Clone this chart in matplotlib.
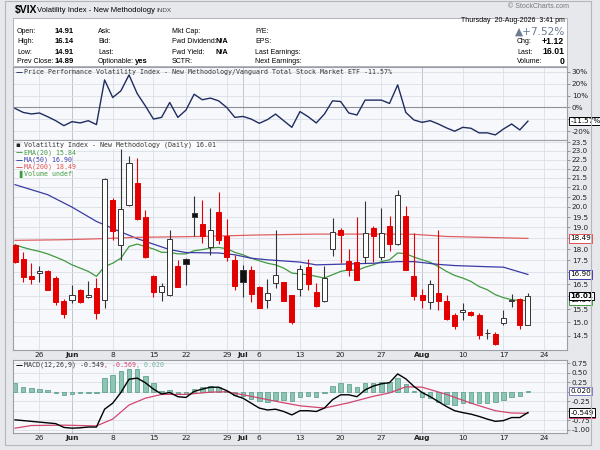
import numpy as np
import matplotlib
matplotlib.use("Agg")
import matplotlib.pyplot as plt
from matplotlib.patches import Rectangle
from matplotlib.transforms import blended_transform_factory as blend

# ---------------- data ----------------
holidays = ["2026-05-25", "2026-06-19", "2026-07-03"]
dates = ["2026-05-20", "2026-05-21", "2026-05-22", "2026-05-26", "2026-05-27", "2026-05-28", "2026-05-29",
         "2026-06-01", "2026-06-02", "2026-06-03", "2026-06-04", "2026-06-05",
         "2026-06-08", "2026-06-09", "2026-06-10", "2026-06-11", "2026-06-12",
         "2026-06-15", "2026-06-16", "2026-06-17", "2026-06-18",
         "2026-06-22", "2026-06-23", "2026-06-24", "2026-06-25", "2026-06-26",
         "2026-06-29", "2026-06-30", "2026-07-01", "2026-07-02",
         "2026-07-06", "2026-07-07", "2026-07-08", "2026-07-09", "2026-07-10",
         "2026-07-13", "2026-07-14", "2026-07-15", "2026-07-16", "2026-07-17",
         "2026-07-20", "2026-07-21", "2026-07-22", "2026-07-23", "2026-07-24",
         "2026-07-27", "2026-07-28", "2026-07-29", "2026-07-30", "2026-07-31",
         "2026-08-03", "2026-08-04", "2026-08-05", "2026-08-06", "2026-08-07",
         "2026-08-10", "2026-08-11", "2026-08-12", "2026-08-13", "2026-08-14",
         "2026-08-17", "2026-08-18", "2026-08-19", "2026-08-20"]

opens = [18.20, 17.56, 16.82, 16.95, 17.06, 16.75, 15.82,
         15.87, 16.27, 15.98, 16.33, 15.84,
         20.33, 18.20, 20.09, 21.24, 19.51,
         16.82, 16.18, 16.06, 17.26,
         17.56, 19.68, 19.16, 18.08, 19.73,
         18.62, 17.53, 17.10, 17.07,
         16.38, 15.87, 16.53, 16.58, 16.04,
         16.29, 17.20, 16.16, 15.83, 18.01,
         18.90, 17.49, 17.42, 17.65, 18.98,
         17.65, 19.06, 18.25, 19.56, 16.82,
         16.05, 15.78, 16.13, 15.83, 15.28,
         15.40, 15.40, 15.28, 14.60, 14.57,
         14.97, 15.80, 15.90, 14.91]
highs = [18.25, 17.86, 17.38, 17.25, 17.10, 16.82, 15.91,
         16.46, 16.30, 16.62, 16.75, 21.50,
         20.45, 23.08, 22.69, 22.60, 19.86,
         16.89, 16.54, 18.86, 17.50,
         17.60, 20.57, 20.37, 19.94, 20.78,
         19.41, 17.75, 17.31, 17.24,
         16.43, 16.69, 18.90, 16.59, 16.07,
         17.31, 17.55, 16.54, 17.25, 19.45,
         18.98, 18.01, 19.51, 20.32, 19.09,
         19.94, 19.56, 20.88, 20.06, 18.72,
         16.30, 16.68, 18.87, 16.04, 15.37,
         15.73, 15.43, 15.34, 14.76, 14.64,
         15.47, 16.09, 15.93, 16.14]
lows = [17.40, 16.58, 16.51, 16.58, 16.24, 15.65, 15.17,
        15.73, 15.73, 15.95, 15.12, 15.54,
        18.43, 17.50, 20.05, 19.34, 17.60,
        15.98, 15.80, 16.02, 16.37,
        16.47, 18.58, 18.28, 17.72, 18.24,
        17.46, 16.27, 15.98, 15.76,
        15.55, 15.55, 16.33, 15.80, 14.95,
        16.02, 16.27, 15.60, 15.76, 17.68,
        17.40, 16.82, 16.65, 17.40, 17.42,
        17.53, 17.91, 18.20, 17.07, 15.87,
        15.55, 15.51, 15.47, 15.09, 14.75,
        15.09, 15.25, 14.39, 14.39, 14.18,
        14.89, 15.59, 14.76, 14.91]
closes = [17.45, 16.78, 16.71, 17.04, 16.27, 15.78, 15.30,
          16.06, 15.78, 16.07, 15.36, 21.46,
          18.85, 19.89, 22.30, 19.41, 17.65,
          16.18, 16.43, 18.45, 16.40,
          17.33, 19.50, 18.61, 18.90, 18.40,
          17.65, 16.43, 16.57, 16.11,
          15.55, 16.13, 16.89, 15.83, 15.00,
          17.13, 16.52, 15.64, 16.75, 18.79,
          18.64, 17.07, 16.65, 18.72, 18.59,
          18.72, 18.23, 20.62, 17.10, 16.00,
          15.85, 16.50, 15.80, 15.12, 14.87,
          15.45, 15.28, 14.54, 14.62, 14.20,
          15.15, 15.85, 14.89, 16.01]

ema20 = [18.20, 18.08, 17.98, 17.90, 17.79, 17.65, 17.50,
         17.31, 17.17, 17.03, 16.82, 17.24,
         17.38, 17.60, 18.12, 18.23, 18.12,
         18.01, 17.86, 17.86, 17.79,
         17.79, 17.93, 17.98, 18.05, 18.08,
         18.02, 17.86, 17.75, 17.60,
         17.49, 17.38, 17.31, 17.17, 16.96,
         16.92, 16.89, 16.82, 16.75, 16.89,
         17.03, 17.10, 17.07, 17.21, 17.31,
         17.45, 17.53, 17.83, 17.80, 17.65,
         17.53, 17.42, 17.24, 17.03, 16.86,
         16.75, 16.61, 16.40, 16.27, 16.07,
         15.95, 15.87, 15.84, 15.84]

ma50_dates = ["2026-05-20", "2026-05-22", "2026-05-27", "2026-06-01", "2026-06-04", "2026-06-09",
              "2026-06-11", "2026-06-17", "2026-06-22", "2026-06-26", "2026-06-30", "2026-07-02",
              "2026-07-07", "2026-07-13", "2026-07-15", "2026-07-20", "2026-07-24", "2026-07-29",
              "2026-07-31", "2026-08-05", "2026-08-07", "2026-08-13", "2026-08-17", "2026-08-20"]
ma50_vals = [21.14, 20.88, 20.62, 19.99, 19.29, 18.79, 18.48, 17.98, 17.85, 17.83, 17.75, 17.60,
             17.53, 17.43, 17.31, 17.34, 17.38, 17.45, 17.45, 17.33, 17.28, 17.23, 17.21, 16.90]

ma200_dates = ["2026-05-20", "2026-05-29", "2026-06-04", "2026-06-11", "2026-06-24", "2026-07-06",
               "2026-07-15", "2026-07-27", "2026-07-31", "2026-08-06", "2026-08-20"]
ma200_vals = [18.40, 18.43, 18.47, 18.54, 18.58, 18.65, 18.69, 18.69, 18.68, 18.58, 18.49]

perf = [-0.8, -4.2, -5.5, -4.7, -7.8, -11.2, -15.4,
        -12.0, -13.1, -11.2, -14.5, 23.3,
        8.4, 14.0, 27.5, 11.8, 1.4,
        -9.8, -8.4, 4.2, -8.4,
        -2.2, 11.2, 6.5, 7.9, 5.6,
        0.0, -8.4, -7.6, -9.8,
        -13.4, -10.3, -5.6, -11.2, -16.8,
        -3.5, -7.8, -13.1, -5.6, 5.6,
        5.0, -4.7, -6.4, 6.2, 6.2,
        6.2, 3.4, 19.1, -4.2, -10.6,
        -12.6, -11.2, -14.0, -17.3, -20.1,
        -16.8, -17.6, -21.5, -21.5, -23.2,
        -18.2, -14.0, -19.0, -11.57]

macd = [-0.74, -0.76, -0.78, -0.80, -0.82, -0.84, -0.94,
        -0.96, -0.95, -0.93, -0.93, -0.46,
        -0.30, -0.02, 0.33, 0.36, 0.24,
        0.07, -0.06, -0.02, -0.13,
        -0.15, 0.01, 0.07, 0.12, 0.12,
        0.03, -0.10, -0.17, -0.30,
        -0.43, -0.48, -0.46, -0.52, -0.61,
        -0.50, -0.50, -0.52, -0.43, -0.21,
        -0.08, -0.08, -0.13, 0.05, 0.15,
        0.21, 0.24, 0.47, 0.34, 0.14,
        -0.02, -0.13, -0.26, -0.39, -0.50,
        -0.55, -0.59, -0.65, -0.72, -0.78,
        -0.76, -0.68, -0.68, -0.549]
signal_dates = ["2026-05-20", "2026-05-22", "2026-05-29", "2026-06-04", "2026-06-08", "2026-06-10",
                "2026-06-12", "2026-06-16", "2026-06-22", "2026-06-25", "2026-06-29", "2026-07-02",
                "2026-07-08", "2026-07-13", "2026-07-16", "2026-07-21", "2026-07-24", "2026-07-28",
                "2026-07-30", "2026-08-03", "2026-08-06", "2026-08-11", "2026-08-14", "2026-08-18",
                "2026-08-20"]
signal_vals = [-0.96, -0.89, -0.88, -0.90, -0.72, -0.35, -0.17, -0.07, -0.07, -0.01, 0.00, -0.12,
               -0.25, -0.37, -0.43, -0.29, -0.12, -0.03, 0.13, 0.12, -0.07, -0.30, -0.50, -0.56,
               -0.569]
hist = [0.22, 0.12, 0.10, 0.07, 0.04, -0.02, -0.08,
        -0.06, -0.04, -0.02, -0.02, 0.37,
        0.44, 0.55, 0.60, 0.60, 0.42,
        0.22, 0.01, 0.04, -0.05,
        -0.05, 0.08, 0.12, 0.15, 0.13,
        0.03, -0.08, -0.12, -0.19,
        -0.25, -0.28, -0.21, -0.21, -0.25,
        -0.13, -0.10, -0.13, -0.03, 0.15,
        0.24, 0.20, 0.13, 0.22, 0.24,
        0.26, 0.27, 0.36, 0.20, 0.02,
        -0.14, -0.17, -0.26, -0.32, -0.36,
        -0.30, -0.30, -0.30, -0.30, -0.28,
        -0.21, -0.13, -0.10, 0.02]

tick_dates = ["2026-05-26", "2026-06-01", "2026-06-08", "2026-06-15", "2026-06-22", "2026-06-29",
              "2026-07-01", "2026-07-06", "2026-07-13", "2026-07-20", "2026-07-27", "2026-08-03",
              "2026-08-10", "2026-08-17", "2026-08-24"]
tick_labels = ["26", "Jun", "8", "15", "22", "29", "Jul", "6", "13", "20", "27", "Aug", "10", "17", "24"]
month_labels = ["Jun", "Jul", "Aug"]

price_ticks = [14.5, 15.0, 15.5, 16.0, 16.5, 17.0, 17.5, 18.0, 18.5, 19.0, 19.5, 20.0,
               20.5, 21.0, 21.5, 22.0, 22.5, 23.0, 23.5]
price_hidden = [16.0, 17.0, 18.5]
perf_ticks = [30, 20, 10, 0, -10, -20]
perf_hidden = [-10]
macd_ticks = [0.75, 0.5, 0.25, 0.0, -0.25, -0.5, -0.75, -1.0]
macd_hidden = [0.0, -0.5]


def bpos(ds):
    return np.busday_count(dates[0], ds, holidays=holidays)


x = bpos(dates)
tpos = bpos(tick_dates)
o = np.array(opens); h = np.array(highs); l = np.array(lows); c = np.array(closes)

# ---------------- figure ----------------
W, H = 600, 450
fig = plt.figure(figsize=(6, 4.5), dpi=100, facecolor="#e7e8ec")


def rect(x0, y0, x1, y1):
    return [x0 / W, 1 - y1 / H, (x1 - x0) / W, (y1 - y0) / H]


def fpt(px, py):
    return px / W, 1 - py / H


PANEL_BG = "#f7f8fc"
GRID = "#dcdee6"
MGRID = "#b9bcc6"
SPINE = "#9c9ea6"
XL = (-0.25, 67.8)
LEGF = "DejaVu Sans Mono"

fig.patches.append(Rectangle((5 / W, 1 - 445 / H), 586 / W, 444 / H, transform=fig.transFigure,
                             fill=False, ec="#b4b6bc", lw=0.8))
fig.patches.append(Rectangle(fpt(13, 66), 554 / W, 48 / H, transform=fig.transFigure,
                             fc="white", ec="#b0b2b8", lw=0.7))

HF = "Liberation Sans"
fig.text(*fpt(15, 10), "$VIX", fontsize=7.5, fontweight="bold", family=HF, va="center")
fig.text(*fpt(37, 10.5), "Volatility Index - New Methodology", fontsize=5.5, family=HF, va="center")
fig.text(*fpt(156, 10.8), "INDX", fontsize=4.6, family=HF, va="center", color="#444")
fig.text(*fpt(569, 6.5), "\u00a9 StockCharts.com", fontsize=5.0, family=HF, va="center", ha="right",
         color="#777")

rows_y = [31.5, 41.8, 52, 61.5]
col1 = ["Open:", "High:", "Low:", "Prev Close:"]
col1v = ["14.91", "16.14", "14.91", "14.89"]
col2 = ["Ask:", "Bid:", "Last:", "Optionable:"]
col3 = ["Mkt Cap:", "Fwd Dividend:", "Fwd Yield:", "SCTR:"]
col4 = ["P/E:", "EPS:", "Last Earnings:", "Next Earnings:"]
fs = 5.0
for i, yy in enumerate(rows_y):
    fig.text(*fpt(17, yy), col1[i], fontsize=fs, family=HF, va="center")
    fig.text(*fpt(55, yy), col1v[i], fontsize=fs + 0.6, family=HF, va="center", fontweight="bold")
    fig.text(*fpt(98, yy), col2[i], fontsize=fs, family=HF, va="center")
    fig.text(*fpt(172, yy), col3[i], fontsize=fs, family=HF, va="center")
    fig.text(*fpt(255, yy), col4[i], fontsize=fs, family=HF, va="center")
fig.text(*fpt(135, rows_y[3]), "yes", fontsize=fs + 0.6, family=HF, va="center", fontweight="bold")
fig.text(*fpt(216, rows_y[1]), "N/A", fontsize=fs + 0.3, family=HF, va="center", fontweight="bold")
fig.text(*fpt(216, rows_y[2]), "N/A", fontsize=fs + 0.3, family=HF, va="center", fontweight="bold")

fig.text(*fpt(565, 21), "Thursday  20-Aug-2026  3:41 pm", fontsize=fs, family=HF, va="center", ha="right")
fig.text(*fpt(565, 31.5), "\u25b2+7.52%", fontsize=7.6, family=["DejaVu Sans"], va="center", ha="right",
         color="#6a7c92")
for yy, lab, val in [(41.8, "Chg:", "+1.12"), (52, "Last:", "16.01"), (61.5, "Volume:", "0")]:
    fig.text(*fpt(517, yy), lab, fontsize=fs, family=HF, va="center")
    fig.text(*fpt(564, yy), val, fontsize=fs + 1.2, family=HF, va="center", ha="right", fontweight="bold")

# ---------------- axes ----------------
ax_top = fig.add_axes(rect(13, 67, 567, 139.5))
ax_main = fig.add_axes(rect(13, 139.5, 567, 350))
ax_macd = fig.add_axes(rect(13, 360, 567, 433))


def style(ax):
    ax.set_facecolor(PANEL_BG)
    ax.set_xlim(*XL)
    for s in ax.spines.values():
        s.set_color(SPINE)
        s.set_linewidth(0.8)
    ax.yaxis.tick_right()
    ax.tick_params(axis="y", length=2, width=0.6, color="#888", pad=1.5, labelsize=5.2,
                   labelcolor="#222")
    ax.tick_params(axis="x", length=0, pad=1.5, labelsize=5.4, labelcolor="#222")
    ax.minorticks_off()
    for i, tp in enumerate(tpos):
        ax.axvline(tp, color=MGRID if tick_labels[i] in month_labels else GRID, lw=0.6, zorder=0)


def yticks(ax, ticks, hidden, fmt):
    ax.set_yticks(ticks)
    ax.set_yticklabels(["" if t in hidden else fmt(t) for t in ticks])
    ax.minorticks_off()
    for t in ticks:
        ax.axhline(t, color=GRID, lw=0.6, zorder=0)


def vbox(ax, yv, s, ec, bold=False, z=6, color="black"):
    ax.text(1.006, yv, s, transform=blend(ax.transAxes, ax.transData), ha="left", va="center",
            fontsize=5.2, color=color, fontweight="bold" if bold else "normal", zorder=z, clip_on=False,
            bbox=dict(boxstyle="square,pad=0.18", fc="white", ec=ec, lw=0.7))


def xlabels(ax):
    ax.set_xticks(tpos)
    ax.set_xticklabels(tick_labels)
    for tl in ax.get_xticklabels():
        if tl.get_text() in month_labels:
            tl.set_fontweight("bold")


def chain(ax, xf, yf, parts, fsz=4.8):
    prev = ax.text(xf, yf, parts[0][0], transform=ax.transAxes, fontsize=fsz, family=LEGF,
                   color=parts[0][1], va="center", zorder=8)
    for txt, col in parts[1:]:
        prev = ax.annotate(txt, xy=(1, 0.5), xycoords=prev, xytext=(0, 0), textcoords="offset points",
                           fontsize=fsz, family=LEGF, color=col, va="center", ha="left", zorder=8)


# ---- top panel ----
style(ax_top)
ax_top.set_ylim(-27.1, 34.2)
yticks(ax_top, perf_ticks, perf_hidden, lambda t: f"{t:d}%")
ax_top.axhline(0, color="#8e9098", lw=0.8, zorder=1)
ax_top.plot(x, perf, color="#1f2d5e", lw=1.0, zorder=3)
ax_top.set_xticks(tpos)
ax_top.set_xticklabels([])
vbox(ax_top, perf[-1], f"{perf[-1]:.2f}%", "black")
ax_top.text(0.004, 0.93, "\u2014", transform=ax_top.transAxes, fontsize=5, color="#1f2d5e",
            va="center", fontweight="bold")
ax_top.text(0.019, 0.93,
            "Price Performance Volatility Index - New Methodology/Vanguard Total Stock Market ETF -11.57%",
            transform=ax_top.transAxes, fontsize=4.8, family=LEGF, color="#333", va="center")

# ---- main panel ----
style(ax_main)
ax_main.set_yscale("log")
ax_main.set_ylim(14.0, 23.66)
yticks(ax_main, price_ticks, price_hidden, lambda t: f"{t:.1f}")
xlabels(ax_main)

ax_main.plot(x, ema20, color="#3f9a3f", lw=0.9, zorder=2)
ax_main.plot(bpos(ma50_dates), ma50_vals, color="#3a3aa8", lw=0.9, zorder=2)
ax_main.plot(bpos(ma200_dates), ma200_vals, color="#e06060", lw=0.9, zorder=2)

prev_c = np.concatenate([[np.inf], c[:-1]])
is_red = c < prev_c
hollow = c > o
RED = "#e40000"
wick_col = [RED if r else "#333333" for r in is_red]
ax_main.vlines(x, l, h, colors=wick_col, lw=0.8, zorder=3)
bottoms = np.minimum(o, c)
heights = np.maximum(np.abs(c - o), 0.02)
faces = ["white" if hw else (RED if r else "#111111") for hw, r in zip(hollow, is_red)]
edges = [(RED if r else "#333333") for r in is_red]
ax_main.bar(x, heights, bottom=bottoms, width=0.62, color=faces, edgecolor=edges, linewidth=0.7,
            zorder=4)

vbox(ax_main, ma200_vals[-1], f"{ma200_vals[-1]:.2f}", "#e05050")
vbox(ax_main, ma50_vals[-1], f"{ma50_vals[-1]:.2f}", "#3a3aa8")
vbox(ax_main, ema20[-1], f"{ema20[-1]:.2f}", "#3f9a3f", z=6)
vbox(ax_main, closes[-1], f"{closes[-1]:.2f}", "black", bold=True, z=7)

leg = [("\u25aa", "#222", f"Volatility Index - New Methodology (Daily) {closes[-1]:.2f}", 145),
       ("\u2014", "#3f9a3f", f"EMA(20) {ema20[-1]:.2f}", 152.4),
       ("\u2014", "#3a3aa8", f"MA(50) {ma50_vals[-1]:.2f}", 159.8),
       ("\u2014", "#e05050", f"MA(200) {ma200_vals[-1]:.2f}", 167.1),
       ("\u2590", "#3f9a3f", "Volume undef", 174.4)]
for sym, col, txt, py in leg:
    yf = 1 - (py - 139.5) / 210.5
    ax_main.text(0.005, yf, sym, transform=ax_main.transAxes, fontsize=5, color=col, va="center",
                 fontweight="bold", zorder=8)
    ax_main.text(0.019, yf, txt, transform=ax_main.transAxes, fontsize=4.8, family=LEGF,
                 color=col if col != "#222" else "#333", va="center", zorder=8,
                 bbox=dict(boxstyle="square,pad=0.05", fc="white", ec="none", alpha=0.7))

# ---- MACD panel ----
style(ax_macd)
ax_macd.set_ylim(-1.087, 0.837)
yticks(ax_macd, macd_ticks, macd_hidden, lambda t: f"{t:.2f}")
xlabels(ax_macd)
ax_macd.bar(x, hist, width=0.55, color="#8ec5b2", edgecolor="#4f9984", linewidth=0.5, zorder=2)
ax_macd.plot(bpos(signal_dates), signal_vals, color="#d2466e", lw=0.9, zorder=3)
ax_macd.plot(x, macd, color="black", lw=1.0, zorder=4)
vbox(ax_macd, hist[-1], f"{hist[-1]:.3f}", "#7c7cb8")
vbox(ax_macd, signal_vals[-1] - 0.01, f"{signal_vals[-1]:.3f}", "#d2466e", z=6)
vbox(ax_macd, macd[-1], f"{macd[-1]:.3f}", "black", z=7)

my = 1 - (365 - 360) / 73
ax_macd.text(0.004, my, "\u2014", transform=ax_macd.transAxes, fontsize=5, color="black",
             va="center", fontweight="bold")
chain(ax_macd, 0.019, my, [(f"MACD(12,26,9) {macd[-1]:.3f}", "#333"),
                           (f", {signal_vals[-1]:.3f}", "#d2466e"),
                           (f", {hist[-1]:.3f}", "#6fb39c")])

fig.savefig("out.png", dpi=100, facecolor=fig.get_facecolor())
